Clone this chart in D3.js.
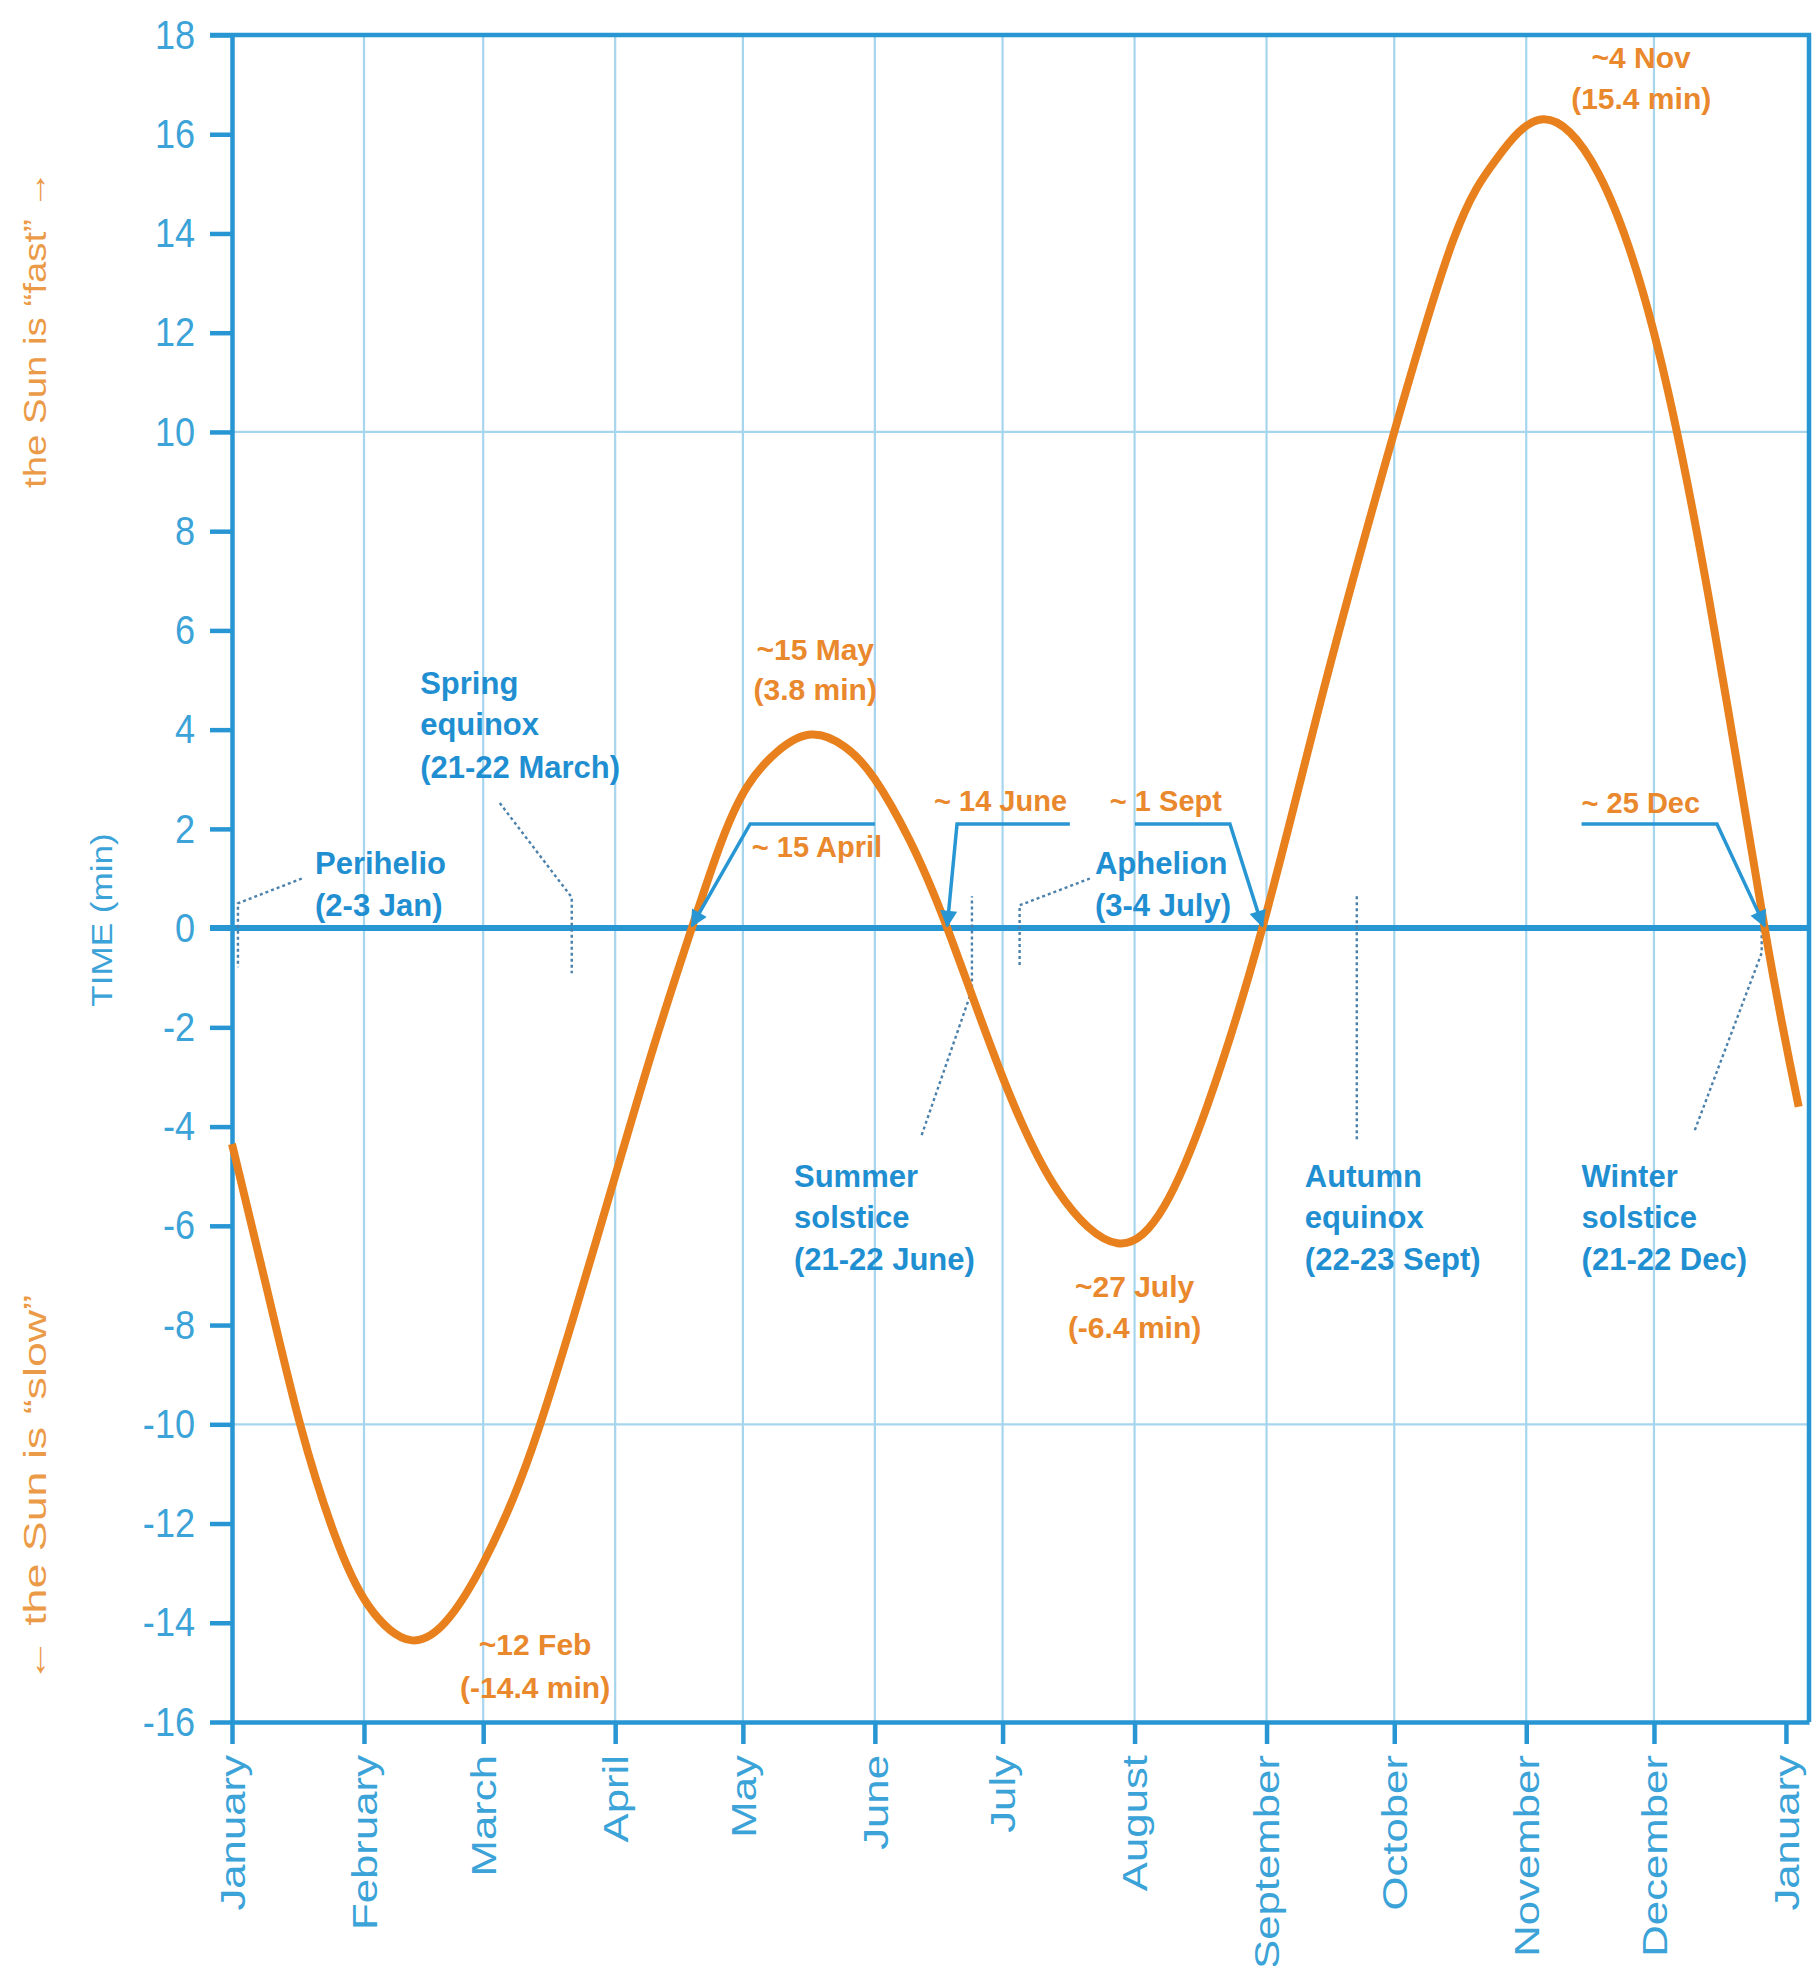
<!DOCTYPE html>
<html>
<head>
<meta charset="utf-8">
<script src="https://cdn.jsdelivr.net/npm/d3@7"></script>
<style>
  body { margin: 0; background: #fff; }
  svg text { font-family: "Liberation Sans", Arial, sans-serif; }
</style>
</head>
<body>
<svg id="chart"></svg>
<script>
// equation of time
const eotDates = ['2021-01-01', '2021-01-09', '2021-01-17', '2021-01-25', '2021-02-02', '2021-02-12',
  '2021-02-21', '2021-03-01', '2021-03-08', '2021-03-14', '2021-03-22', '2021-04-01', '2021-04-10',
  '2021-04-19', '2021-04-26', '2021-05-02', '2021-05-09', '2021-05-17', '2021-05-25', '2021-06-01',
  '2021-06-09', '2021-06-18', '2021-07-01', '2021-07-14', '2021-07-28', '2021-08-08', '2021-08-18',
  '2021-08-31', '2021-09-15', '2021-10-01', '2021-10-15', '2021-10-25', '2021-11-05', '2021-11-18',
  '2021-12-01', '2021-12-14', '2021-12-27', '2022-01-04'];
const eotMinutes = [-4.35, -7.2, -10.0, -12.2, -13.65, -14.35, -13.9, -12.8, -11.5, -10.1, -7.9, -5.0, -2.4,
  0, 1.75, 2.85, 3.55, 3.9, 3.65, 3.0, 1.8, 0, -3.0, -5.3, -6.35, -5.6, -3.6, 0, 5.0, 10.0, 13.9, 15.5,
  16.3, 15.2, 12.0, 6.6, 0, -3.6];

const monthLabels = ['January', 'February', 'March', 'April', 'May', 'June', 'July', 'August',
  'September', 'October', 'November', 'December', 'January'];
const yTickValues = [-16, -14, -12, -10, -8, -6, -4, -2, 0, 2, 4, 6, 8, 10, 12, 14, 16, 18];
const gridMinutes = [-10, 10];

const crossingDates = ['2021-04-19', '2021-06-18', '2021-08-31', '2021-12-27'];
const crossingText = ['~ 15 April', '~ 14 June', '~ 1 Sept', '~ 25 Dec'];
const extremaText = [['~12 Feb', '(-14.4 min)'], ['~15 May', '(3.8 min)'],
  ['~27 July', '(-6.4 min)'], ['~4 Nov', '(15.4 min)']];
const eventText = [['Perihelio', '(2-3 Jan)'], ['Spring', 'equinox', '(21-22 March)'],
  ['Summer', 'solstice', '(21-22 June)'], ['Aphelion', '(3-4 July)'],
  ['Autumn', 'equinox', '(22-23 Sept)'], ['Winter', 'solstice', '(21-22 Dec)']];
const sideTitles = ['the Sun is \u201cfast\u201d \u2192', 'TIME (min)', '\u2190 the Sun is \u201cslow\u201d'];

const W = 1818;
const H = 1966;
const margin = { top: 35, right: 9, bottom: 244, left: 232 };
const innerW = W - margin.left - margin.right;
const innerH = H - margin.top - margin.bottom;

const blue = '#2796d3';
const textBlue = '#1f8fd1';
const tickBlue = '#3ba3d8';
const lightBlue = '#a6d5ee';
const orange = '#e8801d';
const textOrange = '#e9882c';
const leaderColor = '#4a80aa';

const parse = d3.timeParse('%Y-%m-%d');
const start = new Date(2021, 0, 1);
const atDay = (n) => new Date(start.getTime() + n * 864e5);

const data = eotDates.map((d, i) => ({ date: parse(d), value: eotMinutes[i] }));
const monthDates = monthLabels.map((m, i) => new Date(2021, i, 1));

const x = d3.scaleTime().domain([start, new Date(2022, 0, 6, 10)]).range([0, innerW]);
const y = d3.scaleLinear().domain([-16, 18]).range([innerH, 0]);

const svg = d3.select('#chart').attr('width', W).attr('height', H);

svg.append('defs').append('marker')
  .attr('id', 'tip')
  .attr('viewBox', '0 0 10 10')
  .attr('refX', 9)
  .attr('refY', 5)
  .attr('markerUnits', 'userSpaceOnUse')
  .attr('markerWidth', 19)
  .attr('markerHeight', 17)
  .attr('orient', 'auto')
  .append('path')
  .attr('d', 'M0,0L10,5L0,10z')
  .attr('fill', blue);

const g = svg.append('g').attr('transform', `translate(${margin.left},${margin.top})`);

// grid
g.selectAll('.vgrid')
  .data(monthDates.slice(1, 12))
  .enter().append('line')
  .attr('class', 'vgrid')
  .attr('x1', (d) => x(d)).attr('x2', (d) => x(d))
  .attr('y1', 0).attr('y2', innerH)
  .attr('stroke', lightBlue)
  .attr('stroke-width', 2.2);

g.selectAll('.hgrid')
  .data(gridMinutes)
  .enter().append('line')
  .attr('class', 'hgrid')
  .attr('x1', 0).attr('x2', innerW)
  .attr('y1', (d) => y(d)).attr('y2', (d) => y(d))
  .attr('stroke', lightBlue)
  .attr('stroke-width', 2.2);

// axes
const yAxis = d3.axisLeft(y)
  .tickValues(yTickValues)
  .tickSize(22)
  .tickSizeOuter(0)
  .tickFormat((d) => String(d));

const xAxis = d3.axisBottom(x)
  .tickValues(monthDates)
  .tickSize(22)
  .tickSizeOuter(0)
  .tickFormat((d, i) => monthLabels[i]);

const gy = g.append('g').attr('class', 'axis axis--y').call(yAxis);
const gx = g.append('g').attr('class', 'axis axis--x')
  .attr('transform', `translate(0,${innerH})`)
  .call(xAxis);

[gx, gy].forEach((a) => {
  a.select('.domain').attr('stroke', blue).attr('stroke-width', 4.5);
  a.selectAll('.tick line').attr('stroke', blue).attr('stroke-width', 4.5);
});

const yLabelScale = 0.88;
gy.selectAll('.tick text')
  .attr('fill', tickBlue)
  .style('font-size', '41px')
  .attr('transform', `scale(${yLabelScale},1)`)
  .attr('x', -37 / yLabelScale);

const xLabelStretch = 1.25;
gx.selectAll('.tick text')
  .attr('fill', tickBlue)
  .style('font-size', '35px')
  .style('text-anchor', 'end')
  .attr('transform', `rotate(-90) scale(${xLabelStretch},1)`)
  .attr('x', -33 / xLabelStretch)
  .attr('y', 0)
  .attr('dy', '0.35em');

// top and right sides of the frame
g.append('path')
  .attr('d', `M${-22},0H${innerW}V${innerH}`)
  .attr('fill', 'none')
  .attr('stroke', blue)
  .attr('stroke-width', 4.5);

// zero line
g.append('line')
  .attr('x1', -22).attr('x2', innerW)
  .attr('y1', y(0)).attr('y2', y(0))
  .attr('stroke', blue)
  .attr('stroke-width', 6);

// dotted leaders to the astronomical events
const eventLayout = [
  { day: 19.5, lines: [1.1, 0.24], leader: [[16.4, 1.0], [1.4, 0.5], [1.4, -0.79]] },
  { day: 44.2, lines: [4.72, 3.89, 3.02], leader: [[62.9, 2.52], [79.8, 0.62], [79.8, -0.91]] },
  { day: 132, lines: [-5.22, -6.05, -6.89], leader: [[162, -4.17], [173.8, -1.25], [173.8, 0.64]] },
  { day: 202.7, lines: [1.1, 0.24], leader: [[201.5, 1.0], [185, 0.46], [185, -0.75]] },
  { day: 252, lines: [-5.22, -6.05, -6.89], leader: [[264.2, 0.64], [264.2, -4.29]] },
  { day: 317, lines: [-5.22, -6.05, -6.89], leader: [[343.6, -4.07], [359.3, -0.5], [359.3, 0.16]] },
];

const line = d3.line().x((p) => x(atDay(p[0]))).y((p) => y(p[1]));

g.selectAll('.leader')
  .data(eventLayout)
  .enter().append('path')
  .attr('class', 'leader')
  .attr('d', (d) => line(d.leader))
  .attr('fill', 'none')
  .attr('stroke', leaderColor)
  .attr('stroke-width', 2.4)
  .attr('stroke-dasharray', '3,3');

// the curve
const curve = d3.line()
  .x((d) => x(d.date))
  .y((d) => y(d.value))
  .curve(d3.curveNatural);

g.append('path')
  .datum(data)
  .attr('fill', 'none')
  .attr('stroke', orange)
  .attr('stroke-width', 8)
  .attr('stroke-linejoin', 'round')
  .attr('d', curve);

// brackets pointing at the zero crossings
const crossingLayout = [
  { from: 151, corner: 121.7, label: 122.1, base: 1.43 },
  { from: 196.8, corner: 170.3, label: 164.9, base: 2.36 },
  { from: 212.1, corner: 234.4, label: 206.2, base: 2.36 },
  { from: 317, corner: 348.8, label: 317, base: 2.32 },
];
const bracketLevel = 2.1;

g.selectAll('.bracket')
  .data(crossingLayout)
  .enter().append('path')
  .attr('class', 'bracket')
  .attr('d', (d, i) => {
    const tip = parse(crossingDates[i]);
    return `M${x(atDay(d.from))},${y(bracketLevel)}L${x(atDay(d.corner))},${y(bracketLevel)}`
      + `L${x(tip)},${y(0) - 2}`;
  })
  .attr('fill', 'none')
  .attr('stroke', blue)
  .attr('stroke-width', 3.5)
  .attr('marker-end', 'url(#tip)');

g.selectAll('.crossing-label')
  .data(crossingLayout)
  .enter().append('text')
  .attr('class', 'crossing-label')
  .attr('x', (d) => x(atDay(d.label)))
  .attr('y', (d) => y(d.base))
  .attr('fill', textOrange)
  .style('font-size', '29px')
  .style('font-weight', 'bold')
  .text((d, i) => crossingText[i]);

// event labels
const eventGroups = g.selectAll('.event-label')
  .data(eventLayout)
  .enter().append('text')
  .attr('class', 'event-label')
  .attr('fill', textBlue)
  .style('font-size', '31px')
  .style('font-weight', 'bold');

eventGroups.each(function (d, i) {
  d3.select(this).selectAll('tspan')
    .data(eventText[i])
    .enter().append('tspan')
    .attr('x', x(atDay(d.day)))
    .attr('y', (t, j) => y(d.lines[j]))
    .text((t) => t);
});

// extreme values
const extremaLayout = [
  { day: 71.2, lines: [-14.65, -15.52] },
  { day: 137, lines: [5.4, 4.6] },
  { day: 212, lines: [-7.44, -8.26] },
  { day: 331, lines: [17.33, 16.5] },
];

const extremaGroups = g.selectAll('.extrema-label')
  .data(extremaLayout)
  .enter().append('text')
  .attr('class', 'extrema-label')
  .attr('fill', textOrange)
  .style('font-size', '30px')
  .style('font-weight', 'bold')
  .style('text-anchor', 'middle');

extremaGroups.each(function (d, i) {
  d3.select(this).selectAll('tspan')
    .data(extremaText[i])
    .enter().append('tspan')
    .attr('x', x(atDay(d.day)))
    .attr('y', (t, j) => y(d.lines[j]))
    .text((t) => t);
});

// side titles
const sideLayout = [
  { x: 46, y: 329, color: '#eb9b48', size: 32, stretch: 1.2 },
  { x: 112, y: 920, color: tickBlue, size: 30, stretch: 1.17 },
  { x: 46, y: 1489, color: '#eb9b48', size: 32, stretch: 1.4 },
];

svg.selectAll('.side-title')
  .data(sideLayout)
  .enter().append('text')
  .attr('class', 'side-title')
  .attr('transform', (d) => `translate(${d.x},${d.y}) rotate(-90) scale(${d.stretch},1)`)
  .attr('fill', (d) => d.color)
  .style('font-size', (d) => `${d.size}px`)
  .style('text-anchor', 'middle')
  .text((d, i) => sideTitles[i]);
</script>
</body>
</html>
